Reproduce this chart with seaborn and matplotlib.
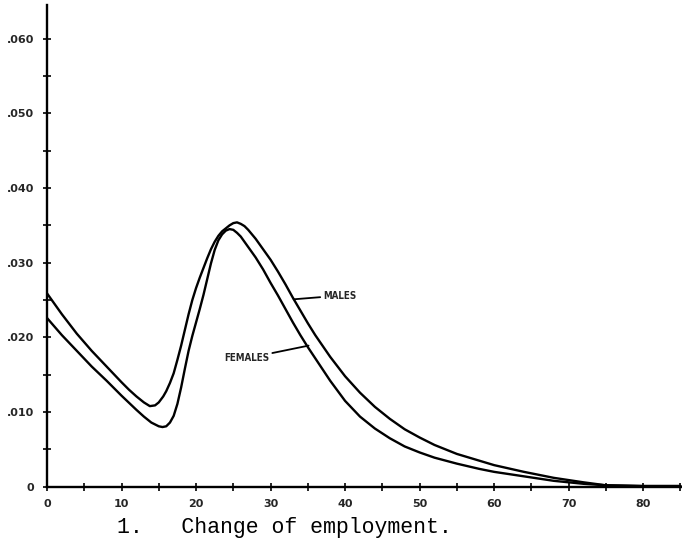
import numpy as np
import pandas as pd
import matplotlib
matplotlib.use("Agg")
import matplotlib.pyplot as plt
from matplotlib.ticker import MultipleLocator, FixedLocator, FixedFormatter
import seaborn as sns

# Age (years) and rate of change of employment, by sex
males_age = [0, 2, 4, 6, 8, 10, 11, 12, 13, 13.8, 14.5, 15, 15.6, 16, 16.5, 17, 17.5,
             18, 18.5, 19, 19.5, 20, 20.5, 21, 21.5, 22, 22.5, 23, 23.5, 24, 24.5, 25,
             25.5, 26, 26.5, 27, 28, 29, 30, 31, 32, 33, 34, 35, 36, 38, 40, 42, 44,
             46, 48, 50, 52, 55, 58, 60, 64, 68, 72, 75, 80, 85]
males_rate = [.0259, .0231, .0205, .0182, .0161, .0140, .0130, .0121, .0113, .0108,
              .0109, .0113, .0121, .0128, .0139, .0152, .0170,
              .0189, .0210, .0231, .0250, .0266, .0280, .0293, .0306, .0318, .0328,
              .0336, .0342, .0346, .0350, .0353,
              .0354, .0352, .0349, .0344, .0332, .0318, .0304, .0288, .0271, .0253,
              .0236, .0219, .0203, .0174, .0148, .0126, .0107,
              .0091, .0077, .0066, .0056, .0044, .0035, .0029, .0020, .0012, .0006,
              .0002, .0001, .0001]

females_age = [0, 2, 4, 6, 8, 10, 12, 13, 14, 15, 15.5, 16, 16.5, 17, 17.5, 18, 18.5,
               19, 19.5, 20, 20.5, 21, 21.5, 22, 22.5, 23, 23.5, 24, 24.5, 25, 25.5,
               26, 27, 28, 29, 30, 31, 32, 33, 34, 35, 36, 38, 40, 42, 44, 46, 48, 50,
               52, 55, 58, 60, 64, 68, 72, 75, 80, 85]
females_rate = [.0226, .0203, .0182, .0161, .0142, .0122, .0103, .0094, .0086, .0081,
                .0080, .0081, .0086, .0095, .0111, .0133, .0158,
                .0182, .0202, .0220, .0238, .0257, .0278, .0299, .0317, .0330, .0338,
                .0343, .0345, .0344, .0340,
                .0335, .0321, .0307, .0291, .0273, .0256, .0238, .0220, .0203, .0187,
                .0172, .0142, .0115, .0094, .0078, .0065, .0054, .0046,
                .0039, .0031, .0024, .0020, .0014, .0008, .0004, .0002, .0001, .0001]

x_ticks = [0, 10, 20, 30, 40, 50, 60, 70, 80]
x_tick_labels = ["0", "10", "20", "30", "40", "50", "60", "70", "80"]
y_ticks = [0, .010, .020, .030, .040, .050, .060]
y_tick_labels = ["0", ".010", ".020", ".030", ".040", ".050", ".060"]

df = pd.concat([
    pd.DataFrame({"age": males_age, "rate": males_rate, "sex": "MALES"}),
    pd.DataFrame({"age": females_age, "rate": females_rate, "sex": "FEMALES"}),
], ignore_index=True)

sns.set_style("white")
plt.rcParams["font.family"] = ["DejaVu Sans"]

fig = plt.figure(figsize=(6.82, 5.49), dpi=100)
ax = fig.add_axes([0.0689, 0.1133, 0.931, 0.8776])

sns.lineplot(data=df, x="age", y="rate", units="sex", estimator=None,
             color="black", linewidth=1.7, legend=False, ax=ax, sort=False,
             solid_joinstyle="round", solid_capstyle="round")

ax.set_xlim(0, 85.2)
ax.set_ylim(0, 0.0645)

for side in ("top", "right"):
    ax.spines[side].set_visible(False)
for side in ("left", "bottom"):
    ax.spines[side].set_linewidth(1.7)
    ax.spines[side].set_color("black")

ax.xaxis.set_major_locator(FixedLocator(x_ticks))
ax.xaxis.set_major_formatter(FixedFormatter(x_tick_labels))
ax.yaxis.set_major_locator(FixedLocator(y_ticks))
ax.yaxis.set_major_formatter(FixedFormatter(y_tick_labels))
ax.xaxis.set_minor_locator(MultipleLocator(5))
ax.yaxis.set_minor_locator(MultipleLocator(0.005))

ax.tick_params(which="both", direction="inout", length=6, width=1.2,
               color="black", left=True, bottom=True)
ax.tick_params(axis="both", which="major", labelsize=8, pad=6)
for lbl in ax.get_xticklabels() + ax.get_yticklabels():
    lbl.set_fontweight("bold")

ax.set_xlabel("")
ax.set_ylabel("")
ax.grid(False)

# Curve labels with leader lines
ax.annotate("MALES", xy=(33.1, 0.0251), xytext=(37.1, 0.0256),
            fontsize=7, fontweight="bold", fontstretch="condensed",
            va="center", ha="left",
            arrowprops=dict(arrowstyle="-", color="black", lw=1.3,
                            shrinkA=0, shrinkB=0))
ax.annotate("FEMALES", xy=(35.1, 0.0189), xytext=(29.8, 0.0172),
            fontsize=7, fontweight="bold", fontstretch="condensed",
            va="center", ha="right",
            arrowprops=dict(arrowstyle="-", color="black", lw=1.3,
                            shrinkA=0, shrinkB=0))

fig.text(0.172, 0.040, "1.   Change of employment.", family="Liberation Mono",
         fontsize=15.5, ha="left", va="center", color="black")

fig.savefig("out.png", dpi=100, facecolor="white")
